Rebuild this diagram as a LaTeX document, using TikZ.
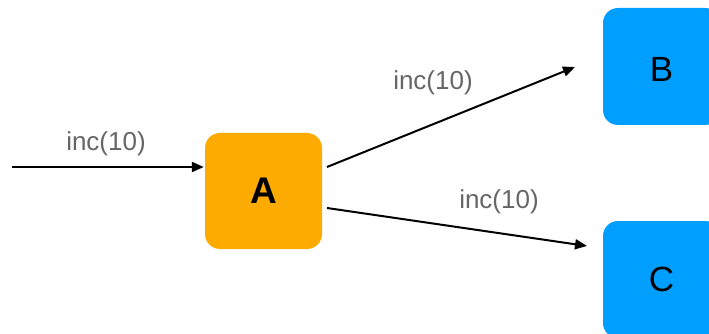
\documentclass[tikz,border=0pt]{standalone}
\usepackage{fontspec}
\setmainfont{Liberation Sans}
\usetikzlibrary{arrows.meta}
\definecolor{orangeA}{HTML}{FDAB00}
\definecolor{blueBC}{HTML}{009FFF}
\definecolor{lblgray}{HTML}{666666}
\begin{document}
\begin{tikzpicture}[x=1pt,y=-1pt,
  actor/.style={rounded corners=15pt, minimum width=117pt, minimum height=117pt, inner sep=0pt, font=\fontsize{35}{40}\selectfont},
  arr/.style={line width=2pt, -{Triangle[length=12pt,width=10pt]}},
  lbl/.style={text=lblgray, anchor=base, inner sep=0pt, font=\fontsize{26}{30}\selectfont}]
\useasboundingbox (0,0) rectangle (709,334);
\node[actor, fill=orangeA, minimum height=116pt, font=\fontsize{37}{40}\selectfont\bfseries] (A) at (263.5,191) {A};
\node[actor, fill=blueBC, text height=31pt, text depth=0pt] (B) at (661.5,66.5) {B};
\node[actor, fill=blueBC] (C) at (661.5,279.5) {C};
\coordinate (in) at (12,167);
\coordinate (ab1) at (327,167);
\coordinate (ab2) at (575,67);
\coordinate (ac1) at (327,208);
\coordinate (ac2) at (587,246);
\draw[arr, shorten >=1pt] (in) -- (in -| A.west);
\draw[arr] (ab1) -- (ab2);
\draw[arr] (ac1) -- (ac2);
\node[lbl] (l1) at (106,150) {inc(10)};
\node[lbl] (l2) at (433,90) {inc(10)};
\node[lbl] (l3) at (499,208) {inc(10)};
\end{tikzpicture}
\end{document}
